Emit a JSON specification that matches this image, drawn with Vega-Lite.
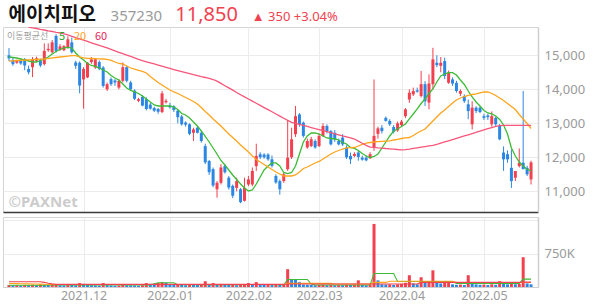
{
  "$schema": "https://vega.github.io/schema/vega-lite/v6.json",
  "padding": {"left": 2, "top": 3, "right": 4, "bottom": 0},
  "background": "white",
  "config": {"view": {"stroke": null}, "axis": {"labelFont": "Noto Sans", "titleFont": "Noto Sans"}, "legend": {"labelFont": "Noto Sans CJK KR", "titleFont": "Noto Sans CJK KR"}},
  "spacing": 0,
  "resolve": {"scale": {"color": "independent"}},
  "datasets": {
    "d": [
      {"i":0,"o":15000,"h":15210,"l":14830,"c":14910,"vk":45,"vd":"u","m5":14950,"m20":14832,"a5":40,"a20":80,"a60":117},
      {"i":1,"o":14860,"h":14920,"l":14690,"c":14740,"vk":38,"vd":"d","m5":14935,"m20":14838,"a5":40,"a20":78,"a60":117},
      {"i":2,"o":14780,"h":14870,"l":14750,"c":14840,"vk":42,"vd":"u","m5":14920,"m20":14847,"a5":40,"a20":76,"a60":117},
      {"i":3,"o":14840,"h":14900,"l":14720,"c":14760,"vk":30,"vd":"d","m5":14891,"m20":14853,"a5":40,"a20":74,"a60":117},
      {"i":4,"o":14890,"h":14920,"l":14560,"c":14700,"vk":48,"vd":"u","m5":14862,"m20":14862,"a5":40,"a20":72,"a60":117},
      {"i":5,"o":14600,"h":14700,"l":14440,"c":14500,"vk":40,"vd":"d","m5":14832,"m20":14868,"m60":15832,"a5":40,"a20":70,"a60":117},
      {"i":6,"o":14650,"h":14950,"l":14360,"c":14860,"vk":52,"vd":"u","m5":14803,"m20":14874,"m60":15808,"a5":40,"a20":68,"a60":117},
      {"i":7,"o":14840,"h":14960,"l":14800,"c":14910,"vk":44,"vd":"d","m5":14803,"m20":14880,"m60":15788,"a5":40,"a20":66,"a60":117},
      {"i":8,"o":14850,"h":14900,"l":14650,"c":14700,"vk":60,"vd":"u","m5":14847,"m20":14885,"m60":15764,"a5":40,"a20":64,"a60":117},
      {"i":9,"o":14740,"h":15350,"l":14700,"c":15130,"vk":55,"vd":"d","m5":14891,"m20":14891,"m60":15744,"a5":40,"a20":62,"a60":105},
      {"i":10,"o":15150,"h":15350,"l":15100,"c":15190,"vk":50,"vd":"d","m5":14950,"m20":14903,"m60":15720,"a5":45,"a20":55,"a60":85},
      {"i":11,"o":15090,"h":15450,"l":15050,"c":15380,"vk":58,"vd":"u","m5":15038,"m20":14921,"m60":15700,"a5":45,"a20":55,"a60":70},
      {"i":12,"o":15570,"h":15620,"l":15080,"c":15130,"vk":62,"vd":"u","m5":15112,"m20":14935,"m60":15676,"a5":45,"a20":55,"a60":60},
      {"i":13,"o":15170,"h":15330,"l":15130,"c":15260,"vk":40,"vd":"d","m5":15170,"m20":14950,"m60":15656,"a5":45,"a20":55,"a60":60},
      {"i":14,"o":15150,"h":15300,"l":15120,"c":15270,"vk":35,"vd":"d","m5":15215,"m20":14962,"m60":15632,"a5":45,"a20":55,"a60":60},
      {"i":15,"o":15230,"h":15560,"l":15200,"c":15470,"vk":50,"vd":"u","m5":15235,"m20":14974,"m60":15597,"a5":45,"a20":55,"a60":60},
      {"i":16,"o":15380,"h":15520,"l":15050,"c":15090,"vk":46,"vd":"d","m5":15215,"m20":14988,"m60":15559,"a5":45,"a20":55,"a60":60},
      {"i":17,"o":14790,"h":14840,"l":14600,"c":14690,"vk":40,"vd":"d","m5":15068,"m20":14988,"m60":15520,"a5":45,"a20":55,"a60":60},
      {"i":18,"o":14780,"h":14820,"l":13880,"c":14110,"vk":88,"vd":"u","m5":14950,"m20":14950,"m60":15482,"a5":45,"a20":55,"a60":60},
      {"i":19,"o":14290,"h":14650,"l":13430,"c":14600,"vk":70,"vd":"d","m5":14862,"m20":14921,"m60":15444,"a5":45,"a20":55,"a60":60},
      {"i":20,"o":14350,"h":14800,"l":14330,"c":14780,"vk":45,"vd":"d","m5":14759,"m20":14912,"m60":15406,"a5":45,"a20":55,"a60":60},
      {"i":21,"o":14800,"h":14950,"l":14750,"c":14880,"vk":40,"vd":"d","m5":14700,"m20":14906,"m60":15368,"a5":45,"a20":55,"a60":60},
      {"i":22,"o":14640,"h":14920,"l":14600,"c":14880,"vk":38,"vd":"d","m5":14671,"m20":14900,"m60":15329,"a5":45,"a20":55,"a60":60},
      {"i":23,"o":14800,"h":14850,"l":14560,"c":14600,"vk":30,"vd":"d","m5":14626,"m20":14894,"m60":15291,"a5":45,"a20":55,"a60":60},
      {"i":24,"o":14640,"h":14680,"l":14050,"c":14100,"vk":88,"vd":"u","m5":14568,"m20":14891,"m60":15253,"a5":45,"a20":55,"a60":60},
      {"i":25,"o":14000,"h":14200,"l":13950,"c":14150,"vk":42,"vd":"d","m5":14509,"m20":14877,"m60":15215,"a5":45,"a20":55,"a60":60},
      {"i":26,"o":14300,"h":14350,"l":14100,"c":14150,"vk":36,"vd":"d","m5":14406,"m20":14847,"m60":15171,"a5":45,"a20":55,"a60":60},
      {"i":27,"o":14260,"h":14300,"l":14100,"c":14200,"vk":30,"vd":"d","m5":14332,"m20":14803,"m60":15129,"a5":45,"a20":55,"a60":60},
      {"i":28,"o":14050,"h":14300,"l":14000,"c":14250,"vk":34,"vd":"u","m5":14274,"m20":14759,"m60":15088,"a5":45,"a20":55,"a60":60},
      {"i":29,"o":14250,"h":14790,"l":14200,"c":14650,"vk":50,"vd":"u","m5":14156,"m20":14744,"m60":15047,"a5":45,"a20":55,"a60":60},
      {"i":30,"o":14650,"h":14680,"l":14200,"c":14250,"vk":40,"vd":"d","m5":14038,"m20":14685,"m60":15006,"a5":45,"a20":55,"a60":60},
      {"i":31,"o":14200,"h":14250,"l":13950,"c":14000,"vk":38,"vd":"d","m5":13965,"m20":14626,"m60":14965,"a5":45,"a20":55,"a60":60},
      {"i":32,"o":13960,"h":14000,"l":13680,"c":13720,"vk":35,"vd":"d","m5":13921,"m20":14591,"m60":14923,"a5":45,"a20":55,"a60":60},
      {"i":33,"o":13660,"h":13750,"l":13620,"c":13710,"vk":30,"vd":"d","m5":13877,"m20":14553,"m60":14882,"a5":45,"a20":55,"a60":60},
      {"i":34,"o":13780,"h":13830,"l":13500,"c":13520,"vk":40,"vd":"u","m5":13803,"m20":14529,"m60":14841,"a5":45,"a20":55,"a60":60},
      {"i":35,"o":13710,"h":13760,"l":13380,"c":13420,"vk":88,"vd":"u","m5":13715,"m20":14479,"m60":14809,"a5":45,"a20":55,"a60":60},
      {"i":36,"o":13550,"h":13600,"l":13400,"c":13430,"vk":70,"vd":"d","m5":13626,"m20":14377,"m60":14776,"a5":45,"a20":55,"a60":60},
      {"i":37,"o":13450,"h":13490,"l":13330,"c":13370,"vk":50,"vd":"d","m5":13538,"m20":14288,"m60":14744,"a5":70,"a20":55,"a60":60},
      {"i":38,"o":13420,"h":13450,"l":13280,"c":13340,"vk":88,"vd":"u","m5":13509,"m20":14200,"m60":14712,"a5":95,"a20":55,"a60":60},
      {"i":39,"o":13330,"h":13950,"l":13300,"c":13880,"vk":110,"vd":"u","m5":13509,"m20":14127,"m60":14679,"a5":95,"a20":55,"a60":60},
      {"i":40,"o":13620,"h":13720,"l":13580,"c":13660,"vk":95,"vd":"d","m5":13509,"m20":14053,"m60":14647,"a5":95,"a20":55,"a60":60},
      {"i":41,"o":13520,"h":13600,"l":13430,"c":13470,"vk":60,"vd":"d","m5":13509,"m20":13980,"m60":14615,"a5":95,"a20":55,"a60":60},
      {"i":42,"o":13500,"h":13530,"l":13330,"c":13390,"vk":45,"vd":"d","m5":13479,"m20":13921,"m60":14582,"a5":95,"a20":55,"a60":60},
      {"i":43,"o":13370,"h":13400,"l":13000,"c":13180,"vk":50,"vd":"u","m5":13406,"m20":13877,"m60":14550,"a5":50,"a20":55,"a60":60},
      {"i":44,"o":13200,"h":13250,"l":12930,"c":12970,"vk":48,"vd":"d","m5":13288,"m20":13818,"m60":14518,"a5":50,"a20":55,"a60":60},
      {"i":45,"o":13020,"h":13060,"l":12900,"c":12960,"vk":40,"vd":"d","m5":13244,"m20":13759,"m60":14488,"a5":50,"a20":55,"a60":60},
      {"i":46,"o":12970,"h":13000,"l":12650,"c":12690,"vk":55,"vd":"u","m5":13156,"m20":13700,"m60":14459,"a5":50,"a20":55,"a60":60},
      {"i":47,"o":12720,"h":12870,"l":12480,"c":12820,"vk":50,"vd":"d","m5":13038,"m20":13641,"m60":14429,"a5":50,"a20":55,"a60":60},
      {"i":48,"o":12870,"h":12900,"l":12700,"c":12720,"vk":45,"vd":"d","m5":12921,"m20":13568,"m60":14403,"a5":50,"a20":55,"a60":60},
      {"i":49,"o":12720,"h":12770,"l":12430,"c":12480,"vk":52,"vd":"u","m5":12774,"m20":13465,"m60":14373,"a5":50,"a20":55,"a60":60},
      {"i":50,"o":12330,"h":12400,"l":11800,"c":11850,"vk":130,"vd":"u","m5":12612,"m20":13347,"m60":14347,"a5":50,"a20":55,"a60":60},
      {"i":51,"o":11890,"h":11920,"l":11480,"c":11560,"vk":60,"vd":"d","m5":12450,"m20":13244,"m60":14318,"a5":50,"a20":55,"a60":60},
      {"i":52,"o":11650,"h":11700,"l":11120,"c":11170,"vk":88,"vd":"u","m5":12273,"m20":13127,"m60":14288,"a5":50,"a20":55,"a60":60},
      {"i":53,"o":11060,"h":11300,"l":10810,"c":11250,"vk":65,"vd":"d","m5":12097,"m20":13024,"m60":14238,"a5":50,"a20":55,"a60":60},
      {"i":54,"o":11250,"h":11800,"l":11200,"c":11700,"vk":70,"vd":"u","m5":11906,"m20":12921,"m60":14174,"a5":50,"a20":55,"a60":60},
      {"i":55,"o":11740,"h":11800,"l":11520,"c":11560,"vk":50,"vd":"d","m5":11774,"m20":12803,"m60":14106,"a5":50,"a20":55,"a60":60},
      {"i":56,"o":11400,"h":11450,"l":11050,"c":11110,"vk":45,"vd":"d","m5":11627,"m20":12685,"m60":14041,"a5":50,"a20":55,"a60":60},
      {"i":57,"o":11160,"h":11200,"l":10800,"c":10870,"vk":48,"vd":"u","m5":11480,"m20":12582,"m60":13974,"a5":50,"a20":55,"a60":60},
      {"i":58,"o":11100,"h":11400,"l":11000,"c":11300,"vk":40,"vd":"d","m5":11347,"m20":12480,"m60":13906,"a5":50,"a20":55,"a60":60},
      {"i":59,"o":11060,"h":11100,"l":10650,"c":10680,"vk":50,"vd":"u","m5":11215,"m20":12362,"m60":13841,"a5":50,"a20":55,"a60":60},
      {"i":60,"o":10720,"h":11400,"l":10700,"c":11100,"vk":55,"vd":"u","m5":11097,"m20":12259,"m60":13776,"a5":50,"a20":55,"a60":60},
      {"i":61,"o":11200,"h":11450,"l":11150,"c":11350,"vk":88,"vd":"u","m5":11009,"m20":12156,"m60":13715,"a5":55,"a20":55,"a60":60},
      {"i":62,"o":11200,"h":11700,"l":11150,"c":11600,"vk":60,"vd":"d","m5":11038,"m20":12038,"m60":13653,"a5":55,"a20":55,"a60":60},
      {"i":63,"o":11740,"h":12400,"l":11600,"c":12040,"vk":110,"vd":"u","m5":11215,"m20":11935,"m60":13588,"a5":55,"a20":55,"a60":60},
      {"i":64,"o":12090,"h":12150,"l":11950,"c":12000,"vk":50,"vd":"d","m5":11421,"m20":11862,"m60":13527,"a5":55,"a20":55,"a60":60},
      {"i":65,"o":12080,"h":12120,"l":11960,"c":12000,"vk":45,"vd":"d","m5":11627,"m20":11788,"m60":13462,"a5":55,"a20":55,"a60":60},
      {"i":66,"o":12080,"h":12120,"l":11900,"c":11940,"vk":48,"vd":"u","m5":11744,"m20":11715,"m60":13400,"a5":55,"a20":55,"a60":60},
      {"i":67,"o":11940,"h":12050,"l":11700,"c":11750,"vk":42,"vd":"d","m5":11833,"m20":11641,"m60":13338,"a5":50,"a20":55,"a60":60},
      {"i":68,"o":11450,"h":11500,"l":11220,"c":11260,"vk":50,"vd":"u","m5":11833,"m20":11568,"m60":13274,"a5":50,"a20":55,"a60":60},
      {"i":69,"o":11300,"h":11350,"l":10900,"c":11060,"vk":45,"vd":"d","m5":11744,"m20":11509,"m60":13212,"a5":50,"a20":55,"a60":60},
      {"i":70,"o":11300,"h":11550,"l":11250,"c":11500,"vk":60,"vd":"u","m5":11553,"m20":11450,"m60":13147,"a5":50,"a20":55,"a60":60},
      {"i":71,"o":11650,"h":13070,"l":11600,"c":11990,"vk":400,"vd":"u","m5":11518,"m20":11450,"m60":13085,"a5":170,"a20":81,"a60":66},
      {"i":72,"o":12000,"h":12870,"l":11950,"c":12530,"vk":180,"vd":"d","m5":11553,"m20":11450,"m60":13029,"a5":170,"a20":81,"a60":66},
      {"i":73,"o":12680,"h":13510,"l":12600,"c":13210,"vk":170,"vd":"d","m5":11744,"m20":11480,"m60":12999,"a5":170,"a20":81,"a60":66},
      {"i":74,"o":13260,"h":13300,"l":12900,"c":12970,"vk":110,"vd":"d","m5":12097,"m20":11568,"m60":12967,"a5":170,"a20":81,"a60":66},
      {"i":75,"o":13020,"h":13050,"l":12580,"c":12630,"vk":55,"vd":"d","m5":12450,"m20":11671,"m60":12938,"a5":170,"a20":81,"a60":66},
      {"i":76,"o":12290,"h":12550,"l":12250,"c":12480,"vk":50,"vd":"d","m5":12627,"m20":11715,"m60":12906,"a5":170,"a20":81,"a60":66},
      {"i":77,"o":12330,"h":12600,"l":12300,"c":12530,"vk":45,"vd":"d","m5":12715,"m20":11774,"m60":12876,"a5":66,"a20":81,"a60":66},
      {"i":78,"o":12480,"h":12530,"l":12250,"c":12290,"vk":40,"vd":"d","m5":12715,"m20":11833,"m60":12844,"a5":44,"a20":81,"a60":66},
      {"i":79,"o":12330,"h":12700,"l":12300,"c":12630,"vk":48,"vd":"u","m5":12685,"m20":11877,"m60":12815,"a5":44,"a20":81,"a60":66},
      {"i":80,"o":12630,"h":13000,"l":12600,"c":12920,"vk":52,"vd":"u","m5":12627,"m20":11950,"m60":12785,"a5":44,"a20":81,"a60":66},
      {"i":81,"o":12920,"h":12970,"l":12700,"c":12770,"vk":40,"vd":"d","m5":12568,"m20":12024,"m60":12753,"a5":44,"a20":81,"a60":66},
      {"i":82,"o":12770,"h":12800,"l":12350,"c":12380,"vk":45,"vd":"u","m5":12553,"m20":12097,"m60":12723,"a5":44,"a20":81,"a60":66},
      {"i":83,"o":12720,"h":12800,"l":12450,"c":12530,"vk":38,"vd":"d","m5":12538,"m20":12156,"m60":12691,"a5":44,"a20":66,"a60":66},
      {"i":84,"o":12480,"h":12550,"l":12350,"c":12380,"vk":42,"vd":"u","m5":12509,"m20":12200,"m60":12662,"a5":44,"a20":66,"a60":66},
      {"i":85,"o":12580,"h":12680,"l":12330,"c":12380,"vk":40,"vd":"d","m5":12435,"m20":12244,"m60":12629,"a5":44,"a20":66,"a60":66},
      {"i":86,"o":12280,"h":12350,"l":11950,"c":12000,"vk":50,"vd":"u","m5":12391,"m20":12274,"m60":12600,"a5":44,"a20":66,"a60":66},
      {"i":87,"o":12040,"h":12140,"l":11800,"c":11940,"vk":44,"vd":"d","m5":12288,"m20":12282,"m60":12568,"a5":44,"a20":66,"a60":66},
      {"i":88,"o":12040,"h":12150,"l":12000,"c":12100,"vk":60,"vd":"u","m5":12259,"m20":12288,"m60":12538,"a5":44,"a20":66,"a60":66},
      {"i":89,"o":12140,"h":12200,"l":11900,"c":12010,"vk":150,"vd":"u","m5":12200,"m20":12332,"m60":12477,"a5":44,"a20":66,"a60":66},
      {"i":90,"o":11990,"h":12050,"l":11900,"c":11930,"vk":50,"vd":"d","m5":12112,"m20":12377,"m60":12412,"a5":44,"a20":66,"a60":66},
      {"i":91,"o":11990,"h":12050,"l":11880,"c":11910,"vk":40,"vd":"d","m5":12038,"m20":12415,"m60":12350,"a5":44,"a20":66,"a60":66},
      {"i":92,"o":11970,"h":12150,"l":11950,"c":12090,"vk":55,"vd":"u","m5":11989,"m20":12435,"m60":12300,"a5":44,"a20":66,"a60":66},
      {"i":93,"o":12280,"h":14290,"l":12190,"c":12630,"vk":1418,"vd":"u","m5":12024,"m20":12450,"m60":12291,"a5":302,"a20":103,"a60":66},
      {"i":94,"o":12690,"h":12900,"l":12550,"c":12850,"vk":150,"vd":"d","m5":12097,"m20":12459,"m60":12279,"a5":302,"a20":103,"a60":66},
      {"i":95,"o":12870,"h":12950,"l":12700,"c":12770,"vk":60,"vd":"d","m5":12273,"m20":12468,"m60":12271,"a5":302,"a20":103,"a60":66},
      {"i":96,"o":13160,"h":13200,"l":13050,"c":13070,"vk":55,"vd":"d","m5":12450,"m20":12474,"m60":12259,"a5":302,"a20":103,"a60":66},
      {"i":97,"o":13070,"h":13120,"l":12920,"c":12970,"vk":58,"vd":"u","m5":12627,"m20":12480,"m60":12250,"a5":302,"a20":130,"a60":66},
      {"i":98,"o":12890,"h":12950,"l":12700,"c":12750,"vk":45,"vd":"d","m5":12774,"m20":12509,"m60":12241,"a5":302,"a20":130,"a60":66},
      {"i":99,"o":12790,"h":13050,"l":12750,"c":13000,"vk":60,"vd":"u","m5":12833,"m20":12530,"m60":12229,"a5":125,"a20":130,"a60":66},
      {"i":100,"o":12950,"h":13100,"l":12900,"c":13050,"vk":70,"vd":"u","m5":12906,"m20":12553,"m60":12221,"a5":125,"a20":130,"a60":66},
      {"i":101,"o":13210,"h":13450,"l":13150,"c":13410,"vk":95,"vd":"u","m5":12980,"m20":12568,"m60":12224,"a5":125,"a20":130,"a60":66},
      {"i":102,"o":13700,"h":14000,"l":13600,"c":13900,"vk":265,"vd":"u","m5":13127,"m20":12582,"m60":12241,"a5":125,"a20":130,"a60":66},
      {"i":103,"o":13850,"h":14050,"l":13800,"c":13950,"vk":80,"vd":"d","m5":13274,"m20":12641,"m60":12262,"a5":125,"a20":130,"a60":66},
      {"i":104,"o":13970,"h":14050,"l":13900,"c":13930,"vk":60,"vd":"d","m5":13421,"m20":12715,"m60":12279,"a5":125,"a20":130,"a60":66},
      {"i":105,"o":13800,"h":14540,"l":13760,"c":14150,"vk":220,"vd":"u","m5":13582,"m20":12774,"m60":12297,"a5":125,"a20":130,"a60":103},
      {"i":106,"o":14150,"h":14240,"l":13510,"c":13650,"vk":100,"vd":"d","m5":13715,"m20":12833,"m60":12315,"a5":125,"a20":130,"a60":103},
      {"i":107,"o":13610,"h":14440,"l":13410,"c":14170,"vk":120,"vd":"u","m5":13877,"m20":12950,"m60":12335,"a5":125,"a20":130,"a60":103},
      {"i":108,"o":14150,"h":15220,"l":14000,"c":14880,"vk":375,"vd":"u","m5":14009,"m20":13068,"m60":12353,"a5":125,"a20":130,"a60":103},
      {"i":109,"o":14780,"h":15000,"l":14650,"c":14710,"vk":90,"vd":"d","m5":14215,"m20":13185,"m60":12379,"a5":125,"a20":130,"a60":103},
      {"i":110,"o":14690,"h":14950,"l":14500,"c":14780,"vk":80,"vd":"d","m5":14391,"m20":13303,"m60":12415,"a5":125,"a20":130,"a60":103},
      {"i":111,"o":14830,"h":14930,"l":14300,"c":14390,"vk":95,"vd":"u","m5":14450,"m20":13391,"m60":12450,"a5":125,"a20":130,"a60":103},
      {"i":112,"o":14190,"h":14550,"l":14160,"c":14490,"vk":95,"vd":"u","m5":14488,"m20":13494,"m60":12485,"a5":125,"a20":130,"a60":103},
      {"i":113,"o":14290,"h":14350,"l":14100,"c":14170,"vk":60,"vd":"d","m5":14488,"m20":13597,"m60":12521,"a5":125,"a20":130,"a60":103},
      {"i":114,"o":14190,"h":14250,"l":13900,"c":13950,"vk":50,"vd":"d","m5":14421,"m20":13685,"m60":12556,"a5":81,"a20":100,"a60":103},
      {"i":115,"o":13870,"h":14000,"l":13800,"c":13950,"vk":55,"vd":"u","m5":14274,"m20":13744,"m60":12591,"a5":81,"a20":100,"a60":103},
      {"i":116,"o":13800,"h":13850,"l":13600,"c":13650,"vk":45,"vd":"d","m5":14141,"m20":13788,"m60":12627,"a5":81,"a20":100,"a60":103},
      {"i":117,"o":13560,"h":13700,"l":13120,"c":13360,"vk":265,"vd":"u","m5":13950,"m20":13818,"m60":12662,"a5":81,"a20":100,"a60":103},
      {"i":118,"o":12970,"h":13650,"l":12820,"c":13460,"vk":110,"vd":"d","m5":13774,"m20":13847,"m60":12697,"a5":81,"a20":100,"a60":103},
      {"i":119,"o":13460,"h":13500,"l":13300,"c":13360,"vk":60,"vd":"d","m5":13626,"m20":13868,"m60":12732,"a5":81,"a20":100,"a60":103},
      {"i":120,"o":13460,"h":13500,"l":13300,"c":13330,"vk":50,"vd":"d","m5":13509,"m20":13897,"m60":12768,"a5":81,"a20":100,"a60":103},
      {"i":121,"o":13210,"h":13280,"l":13100,"c":13160,"vk":55,"vd":"u","m5":13377,"m20":13921,"m60":12806,"a5":81,"a20":100,"a60":103},
      {"i":122,"o":13230,"h":13280,"l":13100,"c":13180,"vk":45,"vd":"d","m5":13303,"m20":13921,"m60":12841,"a5":81,"a20":100,"a60":103},
      {"i":123,"o":12970,"h":13350,"l":12900,"c":13210,"vk":60,"vd":"u","m5":13274,"m20":13877,"m60":12876,"a5":81,"a20":100,"a60":103},
      {"i":124,"o":13160,"h":13200,"l":12900,"c":12970,"vk":50,"vd":"d","m5":13215,"m20":13818,"m60":12912,"a5":81,"a20":100,"a60":103},
      {"i":125,"o":12920,"h":12980,"l":12500,"c":12530,"vk":130,"vd":"u","m5":13112,"m20":13744,"m60":12929,"a5":81,"a20":100,"a60":103},
      {"i":126,"o":12140,"h":12320,"l":11600,"c":11940,"vk":70,"vd":"d","m5":12950,"m20":13671,"m60":12941,"a5":81,"a20":100,"a60":103},
      {"i":127,"o":12090,"h":12200,"l":11840,"c":11940,"vk":60,"vd":"d","m5":12685,"m20":13582,"m60":12941,"a5":81,"a20":100,"a60":103},
      {"i":128,"o":11690,"h":12230,"l":11100,"c":11300,"vk":80,"vd":"u","m5":12273,"m20":13494,"m60":12941,"a5":81,"a20":100,"a60":103},
      {"i":129,"o":11400,"h":11600,"l":11300,"c":11600,"vk":60,"vd":"d","m5":12038,"m20":13406,"m60":12941,"a5":81,"a20":100,"a60":103},
      {"i":130,"o":11740,"h":12260,"l":11700,"c":11840,"vk":70,"vd":"u","m5":11862,"m20":13259,"m60":12941,"a5":81,"a20":100,"a60":103},
      {"i":131,"o":11840,"h":13950,"l":11650,"c":11650,"vk":670,"vd":"u","m5":11744,"m20":13127,"m60":12941,"a5":177,"a20":100,"a60":110},
      {"i":132,"o":11690,"h":11750,"l":11450,"c":11500,"vk":80,"vd":"d","m5":11647,"m20":12994,"m60":12941,"a5":177,"a20":100,"a60":110},
      {"i":133,"o":11350,"h":11900,"l":11200,"c":11850,"vk":60,"vd":"d","m5":11597,"m20":12847,"m60":12941,"a5":177,"a20":100,"a60":110}
    ]
  },
  "vconcat": [
    {
      "width": 535,
      "height": 185,
      "data": {"name": "d"},
      "view": {"stroke": "#d4d4d4"},
      "layer": [
        {
          "mark": {"type": "rule", "strokeWidth": 1, "clip": true},
          "encoding": {
            "x": {"field": "i", "type": "quantitative", "scale": {"domain": [-0.25, 133.5], "nice": false, "zero": false},
              "axis": {"orient": "top", "title": null, "values": [-0.25, 25.75, 42.25, 61.75], "domain": false, "ticks": false, "tickSize": 0, "grid": false,
                "labelExpr": "datum.value < 0 ? '에이치피오' : datum.value < 30 ? '357230' : datum.value < 50 ? '11,850' : '▲ 350  +3.04%'",
                "labelAlign": "left", "labelBaseline": "alphabetic", "labelPadding": 7, "labelOverlap": false, "labelFlush": false, "labelBound": false,
                "labelFont": {"condition": {"test": "datum.value < 0", "value": "Noto Sans CJK KR"}, "value": "Noto Sans"},
                "labelColor": {"condition": [{"test": "datum.value < 0", "value": "#111111"}, {"test": "datum.value < 30", "value": "#9a9a9a"}], "value": "#f0424f"},
                "labelFontSize": {"condition": [{"test": "datum.value < 0", "value": 19}, {"test": "datum.value < 30", "value": 15}, {"test": "datum.value < 50", "value": 20}], "value": 13},
                "labelFontWeight": {"condition": {"test": "datum.value < 0", "value": "bold"}, "value": "normal"}}},
            "y": {"field": "l", "type": "quantitative", "scale": {"domain": [10391, 15832], "nice": false, "zero": false},
              "axis": {"orient": "right", "title": null, "values": [11000, 12000, 13000, 14000, 15000], "labelExpr": "format(datum.value, ',')", "ticks": false, "tickSize": 0,
                "grid": true, "gridColor": "#ececec", "domainColor": "#cfcfcf", "domainWidth": 1.5,
                "labelColor": "#9a9a9a", "labelFont": "Noto Sans", "labelFontSize": 13, "labelPadding": 6, "labelAlign": "left", "labelBaseline": "middle",
                "labelOverlap": false, "labelFlush": false, "labelBound": false}},
            "y2": {"field": "h"},
            "color": {"condition": {"test": "datum.c >= datum.o", "value": "#f2404e"}, "value": "#2b87e3"}
          }
        },
        {
          "mark": {"type": "bar", "width": 3, "clip": true},
          "encoding": {
            "x": {"field": "i", "type": "quantitative", "scale": {"domain": [-0.25, 133.5], "nice": false, "zero": false},
              "axis": {"orient": "bottom", "title": null, "values": [-0.25, 19, 41, 61, 79, 100, 121], "ticks": false, "tickSize": 0,
                "grid": true, "gridColor": "#ececec", "gridOpacity": {"condition": {"test": "datum.value < 1", "value": 0}, "value": 1},
                "domainColor": "#3a3a3a", "domainWidth": 1.5,
                "labelExpr": "datum.value < 1 ? '©PAXNet' : ''", "labelAlign": "left", "labelBaseline": "alphabetic", "labelPadding": -6,
                "labelFont": "Noto Sans", "labelFontSize": 15, "labelFontWeight": "bold", "labelColor": "#cccccc", "labelOverlap": false, "labelFlush": false, "labelBound": false}},
            "y": {"field": "o", "type": "quantitative", "scale": {"domain": [10391, 15832], "nice": false, "zero": false}, "axis": null},
            "y2": {"field": "c"},
            "color": {"condition": {"test": "datum.c >= datum.o", "value": "#f2404e"}, "value": "#2b87e3"}
          }
        },
        {
          "transform": [{"fold": ["m5", "m20", "m60"], "as": ["ma", "val"]}],
          "mark": {"type": "line", "strokeWidth": 1.3, "clip": true},
          "encoding": {
            "x": {"field": "i", "type": "quantitative", "scale": {"domain": [-0.25, 133.5], "nice": false, "zero": false}, "axis": null},
            "y": {"field": "val", "type": "quantitative", "scale": {"domain": [10391, 15832], "nice": false, "zero": false}, "axis": null},
            "color": {"field": "ma", "type": "nominal", "scale": {"domain": ["m5", "m20", "m60"], "range": ["#3dbb37", "#ffa41b", "#f7567a"]},
              "legend": {"title": "이동평균선", "orient": "top-left", "offset": 4, "direction": "horizontal", "titleOrient": "left",
                "titleColor": "#a0a0a0", "titleFontSize": 9, "titleFontWeight": "normal", "titlePadding": 3,
                "labelExpr": "replace(datum.label, 'm', '')", "labelFontSize": 11, "labelOffset": -4, "columnPadding": 1,
                "symbolSize": 0, "symbolStrokeWidth": 0, "symbolOpacity": 0, "padding": 0,
                "encoding": {"labels": {"fill": {"condition": [{"test": "datum.value === 'm5'", "value": "#2aa52a"}, {"test": "datum.value === 'm20'", "value": "#ffa41b"}], "value": "#e8255a"}}}}}
          }
        }
      ],
      "resolve": {"axis": {"x": "independent", "y": "independent"}}
    },
    {
      "width": 535,
      "height": 70,
      "data": {"name": "d"},
      "view": {"stroke": "#d4d4d4"},
      "layer": [
        {
          "mark": {"type": "bar", "width": 3},
          "encoding": {
            "x": {"field": "i", "type": "quantitative", "scale": {"domain": [-0.25, 133.5], "nice": false, "zero": false},
              "axis": {"orient": "bottom", "title": null, "values": [19, 41, 61, 79, 100, 121], "ticks": false, "tickSize": 0,
                "grid": true, "gridColor": "#ececec", "domainColor": "#cfcfcf",
                "labelExpr": "datum.value == 19 ? '2021.12' : datum.value == 41 ? '2022.01' : datum.value == 61 ? '2022.02' : datum.value == 79 ? '2022.03' : datum.value == 100 ? '2022.04' : '2022.05'",
                "labelColor": "#9a9a9a", "labelFont": "Noto Sans", "labelFontSize": 12.5, "labelPadding": 2, "labelAlign": "center", "labelBaseline": "top",
                "labelOverlap": false, "labelFlush": false, "labelBound": false}},
            "y": {"field": "vk", "type": "quantitative", "scale": {"domain": [0, 1574], "nice": false, "zero": true},
              "axis": {"orient": "right", "title": null, "values": [750, 1500], "ticks": false, "tickSize": 0,
                "grid": true, "gridColor": "#ececec", "domainColor": "#cfcfcf", "domainWidth": 1.5,
                "labelExpr": "datum.value == 750 ? '750K' : ''", "labelColor": "#9a9a9a", "labelFont": "Noto Sans", "labelFontSize": 13, "labelPadding": 6,
                "labelAlign": "left", "labelBaseline": "middle", "labelOverlap": false, "labelFlush": false, "labelBound": false}},
            "color": {"condition": {"test": "datum.vd === 'u'", "value": "#f2404e"}, "value": "#2b87e3"}
          }
        },
        {
          "transform": [{"fold": ["a5", "a20", "a60"], "as": ["vma", "vval"]}],
          "mark": {"type": "line", "strokeWidth": 1.1},
          "encoding": {
            "x": {"field": "i", "type": "quantitative", "scale": {"domain": [-0.25, 133.5], "nice": false, "zero": false}, "axis": null},
            "y": {"field": "vval", "type": "quantitative", "scale": {"domain": [0, 1574], "nice": false, "zero": true}, "axis": null},
            "color": {"field": "vma", "type": "nominal", "scale": {"domain": ["a5", "a20", "a60"], "range": ["#3dbb37", "#ffa41b", "#f2404e"]}, "legend": null}
          }
        }
      ],
      "resolve": {"axis": {"x": "independent", "y": "independent"}}
    }
  ]
}
